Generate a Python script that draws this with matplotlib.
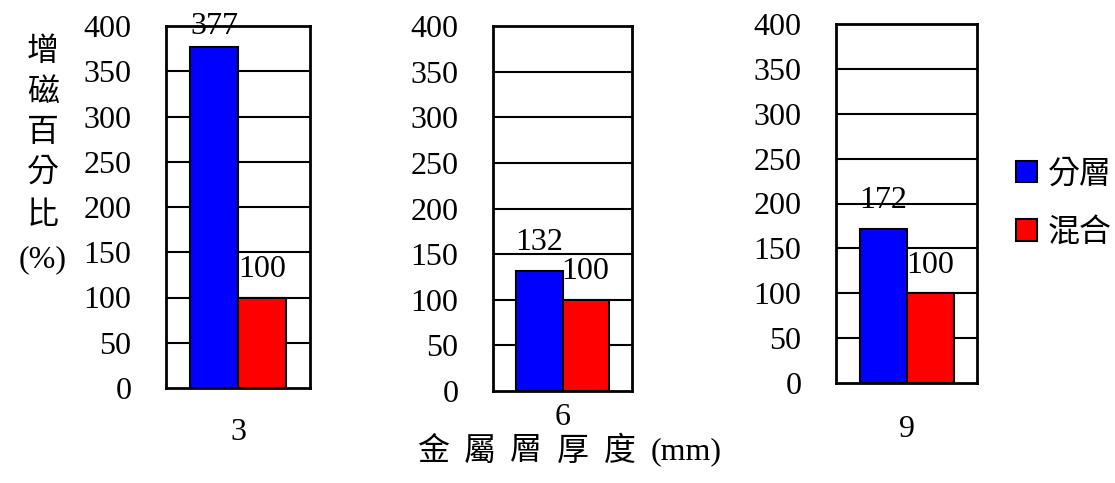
import matplotlib
matplotlib.use("Agg")
import matplotlib.pyplot as plt
from matplotlib.patches import Patch

plt.rcParams['font.family'] = ['Liberation Serif', 'Noto Sans CJK TC', 'DejaVu Sans']

# Data
thickness = ["3", "6", "9"]
series_names = ["分層", "混合"]
layered = [377, 132, 172]
mixed = [100, 100, 100]
series_colors = ["#0000FF", "#FF0000"]
y_ticks = [0, 50, 100, 150, 200, 250, 300, 350, 400]

W, H = 1115, 483
fig = plt.figure(figsize=(W / 100, H / 100), dpi=100)

# panel boxes in pixels: left, top, right, bottom
boxes = [(166, 26, 310, 388), (493, 26, 632, 391), (836, 24, 977, 383)]
# baseline of category label below each panel (pixels)
cat_base = [440, 425, 437]

FS = 23

for i, (l, t, r, b) in enumerate(boxes):
    ax = fig.add_axes([l / W, 1 - b / H, (r - l) / W, (b - t) / H])
    ax.set_xlim(0, 3)
    ax.set_ylim(0, 400)
    for yv in y_ticks[1:-1]:
        ax.axhline(yv, color="black", lw=1.5, zorder=1)
    vals = [layered[i], mixed[i]]
    xs = [1, 2]
    ax.bar(xs, vals, width=1.0, color=series_colors, edgecolor="black",
           linewidth=1.5, zorder=2)
    for x, v in zip(xs, vals):
        ly = min(v + 23, 391)
        ax.text(x, ly, str(v), ha="center", va="baseline", fontsize=FS,
                zorder=3, clip_on=False)
    for s in ax.spines.values():
        s.set_linewidth(2)
        s.set_zorder(4)
    ax.set_yticks(y_ticks)
    ax.set_yticklabels([str(v) for v in y_ticks], fontsize=FS)
    ax.tick_params(axis="y", length=0, pad=25)
    ax.set_xticks([])
    fig.text((l + r) / 2 / W, 1 - cat_base[i] / H, thickness[i],
             ha="center", va="baseline", fontsize=FS)

# Vertical y-axis title
ylab_chars = ["增", "磁", "百", "分", "比", "(%)"]
ylab_y = [52, 93, 133, 173, 217, 260]
for ch, yy in zip(ylab_chars, ylab_y):
    fig.text(43 / W, 1 - yy / H, ch, ha="center", va="center", fontsize=FS)

# x-axis title, characters spread out
xlab_parts = ["金", "屬", "層", "厚", "度", "(mm)"]
xlab_x = [434, 480, 526, 573, 620, 686]
for ch, xx in zip(xlab_parts, xlab_x):
    fig.text(xx / W, 1 - 452 / H, ch, ha="center", va="center", fontsize=FS)

# Legend
handles = [Patch(facecolor=c, edgecolor="black", linewidth=1.5)
           for c in series_colors]
fig.legend(handles, series_names, loc="center left",
           bbox_to_anchor=(1003 / W, 1 - 204 / H), frameon=False,
           fontsize=23, handlelength=0.65, handleheight=0.65,
           handletextpad=0.35, labelspacing=0.9, borderaxespad=0)

fig.savefig("out.png", dpi=100)
